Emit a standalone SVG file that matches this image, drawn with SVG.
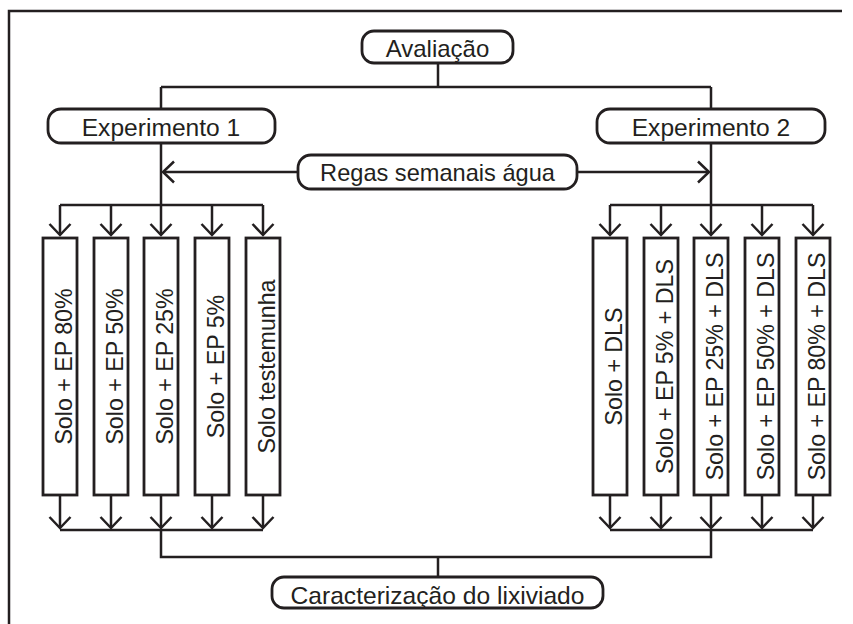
<svg xmlns="http://www.w3.org/2000/svg" width="853" height="624" viewBox="0 0 853 624">
<style>
.frame{fill:none;stroke:#231f20;stroke-width:2.5}
.rbox{fill:#fff;stroke:#231f20;stroke-width:2.8}
.vbox{fill:#fff;stroke:#231f20;stroke-width:2.8}
.ln{fill:none;stroke:#231f20;stroke-width:2.5}
.t{font-family:"Liberation Sans",Arial,sans-serif;font-size:24px;fill:#231f20;text-anchor:middle}
.vt{font-family:"Liberation Sans",Arial,sans-serif;font-size:23.2px;fill:#231f20;text-anchor:middle}
</style>
<defs>
<marker id="arr" markerUnits="userSpaceOnUse" markerWidth="30" markerHeight="30" viewBox="-15 -15 30 30" refX="0" refY="0" orient="auto" overflow="visible">
<path d="M-11,-10.5 L0,0 L-11,10.5" fill="none" stroke="#231f20" stroke-width="2.5"/>
</marker>
</defs>
<rect width="853" height="624" fill="#fff"/>
<path class="frame" d="M9,624 V11 H842"/>
<g id="connectors">
<path class="ln" d="M438,63 V87 M161,87 H711 M161,87 V109 M711,87 V109"/>
<path class="ln" d="M161,143 V205 M711,143 V205"/>
<path class="ln" d="M298,172 H163" marker-end="url(#arr)"/>
<path class="ln" d="M577,172 H709" marker-end="url(#arr)"/>
<path class="ln" d="M60,205 H263 M610,205 H813"/>
<path class="ln" d="M60,205 V235" marker-end="url(#arr)"/>
<path class="ln" d="M111,205 V235" marker-end="url(#arr)"/>
<path class="ln" d="M161,205 V235" marker-end="url(#arr)"/>
<path class="ln" d="M212,205 V235" marker-end="url(#arr)"/>
<path class="ln" d="M263,205 V235" marker-end="url(#arr)"/>
<path class="ln" d="M610,205 V235" marker-end="url(#arr)"/>
<path class="ln" d="M661,205 V235" marker-end="url(#arr)"/>
<path class="ln" d="M711,205 V235" marker-end="url(#arr)"/>
<path class="ln" d="M762,205 V235" marker-end="url(#arr)"/>
<path class="ln" d="M813,205 V235" marker-end="url(#arr)"/>
<path class="ln" d="M60,495 V528" marker-end="url(#arr)"/>
<path class="ln" d="M111,495 V528" marker-end="url(#arr)"/>
<path class="ln" d="M161,495 V528" marker-end="url(#arr)"/>
<path class="ln" d="M212,495 V528" marker-end="url(#arr)"/>
<path class="ln" d="M263,495 V528" marker-end="url(#arr)"/>
<path class="ln" d="M610,495 V528" marker-end="url(#arr)"/>
<path class="ln" d="M661,495 V528" marker-end="url(#arr)"/>
<path class="ln" d="M711,495 V528" marker-end="url(#arr)"/>
<path class="ln" d="M762,495 V528" marker-end="url(#arr)"/>
<path class="ln" d="M813,495 V528" marker-end="url(#arr)"/>
<path class="ln" d="M60,530 H263 M610,530 H813 M161,530 V557 H711 V530 M438,557 V577"/>
</g>
<g id="avaliacao">
<rect class="rbox" x="362" y="31" width="151" height="32" rx="12"/>
<text class="t" x="437.5" y="57">Avaliação</text>
</g>
<g id="experimento1">
<rect class="rbox" x="48" y="109" width="227" height="34" rx="13"/>
<text class="t" x="161" y="135.5" style="font-size:24.6px">Experimento 1</text>
</g>
<g id="experimento2">
<rect class="rbox" x="597" y="109" width="228" height="34" rx="13"/>
<text class="t" x="711" y="135.5" style="font-size:24.6px">Experimento 2</text>
</g>
<g id="regas">
<rect class="rbox" x="298" y="155" width="279" height="34" rx="13"/>
<text class="t" x="437.5" y="181" style="font-size:23.6px">Regas semanais água</text>
</g>
<g id="caracterizacao">
<rect class="rbox" x="272" y="577" width="331" height="31" rx="12"/>
<text class="t" x="437.5" y="604" style="font-size:24.6px">Caracterização do lixiviado</text>
</g>
<g id="e1-80">
<rect class="vbox" x="43" y="238" width="34" height="257"/>
<text class="vt" transform="translate(72,366.5) rotate(-90)">Solo + EP 80%</text>
</g>
<g id="e1-50">
<rect class="vbox" x="94" y="238" width="34" height="257"/>
<text class="vt" transform="translate(123,366.5) rotate(-90)">Solo + EP 50%</text>
</g>
<g id="e1-25">
<rect class="vbox" x="144" y="238" width="34" height="257"/>
<text class="vt" transform="translate(173,366.5) rotate(-90)">Solo + EP 25%</text>
</g>
<g id="e1-5">
<rect class="vbox" x="195" y="238" width="34" height="257"/>
<text class="vt" transform="translate(224,366.5) rotate(-90)">Solo + EP 5%</text>
</g>
<g id="e1-test">
<rect class="vbox" x="246" y="238" width="34" height="257"/>
<text class="vt" transform="translate(275,366.5) rotate(-90)">Solo testemunha</text>
</g>
<g id="e2-dls">
<rect class="vbox" x="593" y="238" width="34" height="257"/>
<text class="vt" transform="translate(622,366.5) rotate(-90)">Solo + DLS</text>
</g>
<g id="e2-5">
<rect class="vbox" x="644" y="238" width="34" height="257"/>
<text class="vt" transform="translate(673,366.5) rotate(-90)">Solo + EP 5% + DLS</text>
</g>
<g id="e2-25">
<rect class="vbox" x="694" y="238" width="34" height="257"/>
<text class="vt" transform="translate(723,366.5) rotate(-90)">Solo + EP 25% + DLS</text>
</g>
<g id="e2-50">
<rect class="vbox" x="745" y="238" width="34" height="257"/>
<text class="vt" transform="translate(774,366.5) rotate(-90)">Solo + EP 50% + DLS</text>
</g>
<g id="e2-80">
<rect class="vbox" x="796" y="238" width="34" height="257"/>
<text class="vt" transform="translate(825,366.5) rotate(-90)">Solo + EP 80% + DLS</text>
</g>
</svg>
